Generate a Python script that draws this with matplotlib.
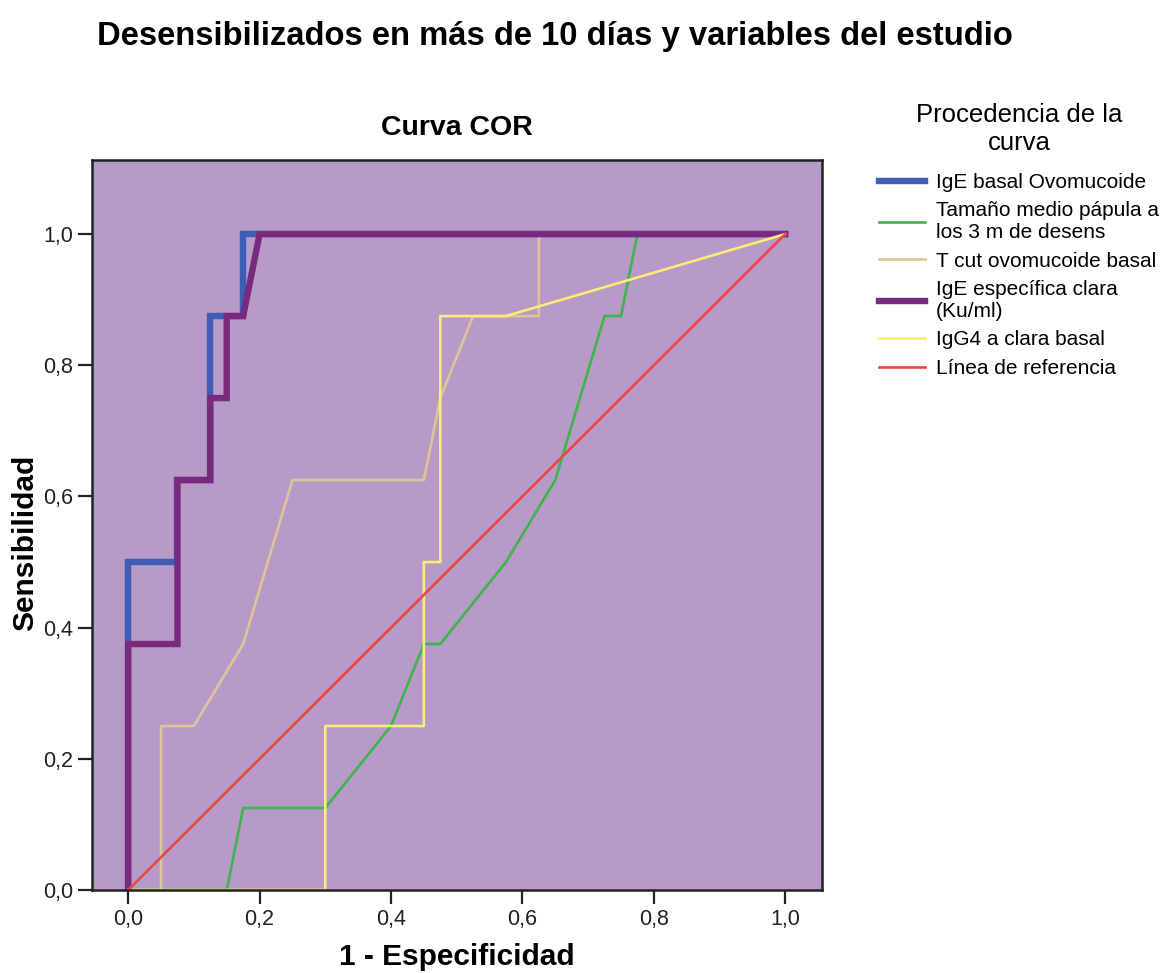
import matplotlib
matplotlib.use("Agg")
import matplotlib.pyplot as plt
from matplotlib.ticker import FuncFormatter

plt.rcParams['font.family'] = ['Liberation Sans', 'DejaVu Sans']

# ROC curves (1 - Especificidad, Sensibilidad)
ige_ovo_x = [0, 0, 0.075, 0.075, 0.125, 0.125, 0.175, 0.175, 1.0]
ige_ovo_y = [0, 0.5, 0.5, 0.625, 0.625, 0.875, 0.875, 1.0, 1.0]

papula_x = [0, 0.15, 0.175, 0.3, 0.4, 0.45, 0.475, 0.575, 0.65, 0.725, 0.75, 0.775, 1.0]
papula_y = [0, 0, 0.125, 0.125, 0.25, 0.375, 0.375, 0.5, 0.625, 0.875, 0.875, 1.0, 1.0]

tcut_x = [0, 0.05, 0.05, 0.1, 0.175, 0.25, 0.45, 0.475, 0.525, 0.625, 0.625, 1.0]
tcut_y = [0, 0, 0.25, 0.25, 0.375, 0.625, 0.625, 0.75, 0.875, 0.875, 1.0, 1.0]

ige_clara_x = [0, 0, 0.075, 0.075, 0.125, 0.125, 0.15, 0.15, 0.175, 0.2, 1.0]
ige_clara_y = [0, 0.375, 0.375, 0.625, 0.625, 0.75, 0.75, 0.875, 0.875, 1.0, 1.0]

igg4_x = [0, 0.3, 0.3, 0.45, 0.45, 0.475, 0.475, 0.575, 1.0]
igg4_y = [0, 0, 0.25, 0.25, 0.5, 0.5, 0.875, 0.875, 1.0]

ref_x = [0, 1]
ref_y = [0, 1]

labels = ["IgE basal Ovomucoide", "Tamaño medio pápula a\nlos 3 m de desens",
          "T cut ovomucoide basal", "IgE específica clara\n(Ku/ml)",
          "IgG4 a clara basal", "Línea de referencia"]
ticks = [0.0, 0.2, 0.4, 0.6, 0.8, 1.0]

fig = plt.figure(figsize=(11.74, 9.73), dpi=100)
ax = fig.add_axes([0.0784, 0.0853, 0.6218, 0.7503])
ax.set_facecolor('#B79AC8')

l1, = ax.plot(ige_ovo_x, ige_ovo_y, color='#3F5DB4', lw=4.6, solid_joinstyle='miter')
l2, = ax.plot(papula_x, papula_y, color='#3DB54A', lw=1.9)
l3, = ax.plot(tcut_x, tcut_y, color='#D8C898', lw=1.9)
l4, = ax.plot(ige_clara_x, ige_clara_y, color='#7A2A7C', lw=4.6, solid_joinstyle='miter')
l5, = ax.plot(igg4_x, igg4_y, color='#F5EE78', lw=1.9)
l6, = ax.plot(ref_x, ref_y, color='#EE4444', lw=1.9)

ax.set_xlim(-0.055, 1.056)
ax.set_ylim(0, 1.113)
ax.set_xticks(ticks)
ax.set_yticks(ticks)
fmt = FuncFormatter(lambda v, p: f"{v:.1f}".replace('.', ','))
ax.xaxis.set_major_formatter(fmt)
ax.yaxis.set_major_formatter(fmt)
ax.tick_params(direction='out', length=10, width=1.6, labelsize=15.5, colors='#222222', pad=3.5)
for s in ax.spines.values():
    s.set_linewidth(1.8)
    s.set_color('#222222')

ax.set_xlabel("1 - Especificidad", fontsize=21.5, fontweight='bold')
ax.set_ylabel("Sensibilidad", fontsize=21.5, fontweight='bold')
ax.xaxis.set_label_coords(0.5, -0.092)
ax.xaxis.label.set_va('center')
ax.yaxis.set_label_coords(-0.092, 0.475)
ax.yaxis.label.set_va('center')

fig.text(0.389, 1 - 128 / 973, "Curva COR", fontsize=20.5, fontweight='bold',
         ha='center', va='center')

fig.text(0.083, 0.962, "Desensibilizados en más de 10 días y variables del estudio",
         fontsize=23.6, fontweight='bold', ha='left', va='center')

leg = fig.legend([l1, l2, l3, l4, l5, l6], labels, loc='upper left',
                 bbox_to_anchor=(0.749, 0.894), frameon=False, fontsize=15,
                 title="Procedencia de la\ncurva", title_fontsize=18.5,
                 handlelength=2.2, handletextpad=0.5, labelspacing=0.45,
                 borderpad=0, borderaxespad=0)
leg.get_title().set_multialignment('center')
leg.get_title().set_linespacing(1.2)
leg._legend_box.sep = 13

fig.savefig("out.png", dpi=100)
